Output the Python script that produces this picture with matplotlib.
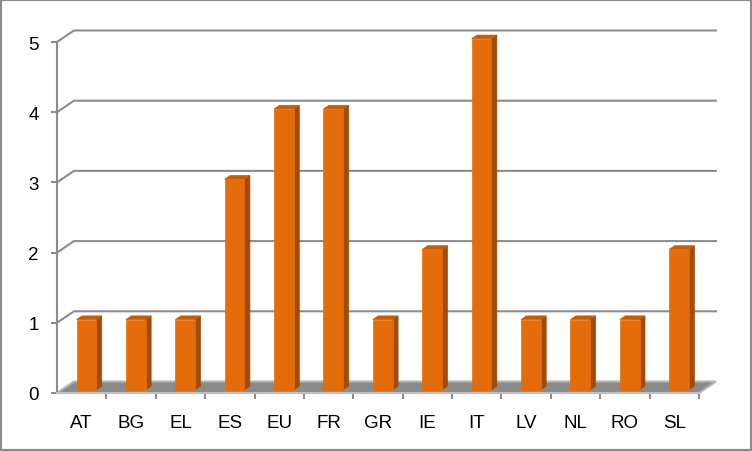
import matplotlib.pyplot as plt
from matplotlib.patches import Polygon, Rectangle

# data
categories = ["AT", "BG", "EL", "ES", "EU", "FR", "GR", "IE", "IT", "LV", "NL", "RO", "SL"]
counts = [1, 1, 1, 3, 4, 4, 1, 2, 5, 1, 1, 1, 2]
y_ticks = [0, 1, 2, 3, 4, 5]

# fake 3d depth, in data units
DX = 0.344
DY = 0.164
BAR_W = 0.4
F0, F1 = 0.28, 0.6

FRONT = "#E46C0A"
SIDE = "#A24A06"
TOP = "#C55C08"
GRID = "#8c8c8c"

plt.rcParams['font.family'] = ['Liberation Sans', 'DejaVu Sans']

fig = plt.figure(figsize=(7.52, 4.52), dpi=100)
ax = fig.add_axes([57 / 752, (452 - 394) / 452, 642 / 752, 351 / 452])
ax.set_xlim(-0.5, len(categories) - 0.5)
ax.set_ylim(0, 5)
x_lo, x_hi = -0.5, len(categories) - 0.5

# back wall gridlines, bent over the left wall
for v in y_ticks[1:]:
    ax.plot([x_lo, x_lo + DX, x_hi + DX], [v, v + DY, v + DY],
            color=GRID, lw=1.5, clip_on=False, zorder=1)

# floor
floor = Polygon([(x_lo, 0), (x_hi, 0), (x_hi + DX, DY), (x_lo + DX, DY)],
                closed=True, facecolor="#8a8a8a", edgecolor="#b4b4b4",
                lw=1.5, clip_on=False, zorder=2)
ax.add_patch(floor)

# bars
for i, v in enumerate(counts):
    x0 = i - BAR_W / 2
    x1 = x0 + BAR_W
    ox0, oy0 = F0 * DX, F0 * DY
    ox1, oy1 = F1 * DX, F1 * DY
    side = [(x1 + ox0, oy0), (x1 + ox1, oy1), (x1 + ox1, v + oy1), (x1 + ox0, v + oy0)]
    top = [(x0 + ox0, v + oy0), (x1 + ox0, v + oy0), (x1 + ox1, v + oy1), (x0 + ox1, v + oy1)]
    front = [(x0 + ox0, oy0), (x1 + ox0, oy0), (x1 + ox0, v + oy0), (x0 + ox0, v + oy0)]
    for pts, col in [(side, SIDE), (top, TOP), (front, FRONT)]:
        ax.add_patch(Polygon(pts, closed=True, facecolor=col, edgecolor=col,
                             lw=0.5, clip_on=False, zorder=3))

# axes
for s in ["top", "right"]:
    ax.spines[s].set_visible(False)
ax.spines["left"].set_color(GRID)
ax.spines["left"].set_linewidth(1.5)
ax.spines["bottom"].set_color("#c0c0c0")
ax.spines["bottom"].set_linewidth(1.5)
ax.spines["bottom"].set_zorder(2.5)

ax.set_yticks(y_ticks)
ax.tick_params(axis="y", length=4.3, width=1.5, color=GRID, pad=9, labelsize=13.5)
ax.set_xticks(range(len(categories)))
ax.set_xticklabels(categories)
ax.set_xticks([i - 0.5 for i in range(1, len(categories) + 1)], minor=True)
ax.tick_params(axis="x", which="major", length=0, pad=15, labelsize=13.5)
ax.tick_params(axis="x", which="minor", length=4, width=1.5, color=GRID)

fig.patches.append(Rectangle((0, 0), 1, 1, transform=fig.transFigure, fill=False,
                             edgecolor="#8c8c8c", lw=3))

fig.savefig("out.png", dpi=100)
